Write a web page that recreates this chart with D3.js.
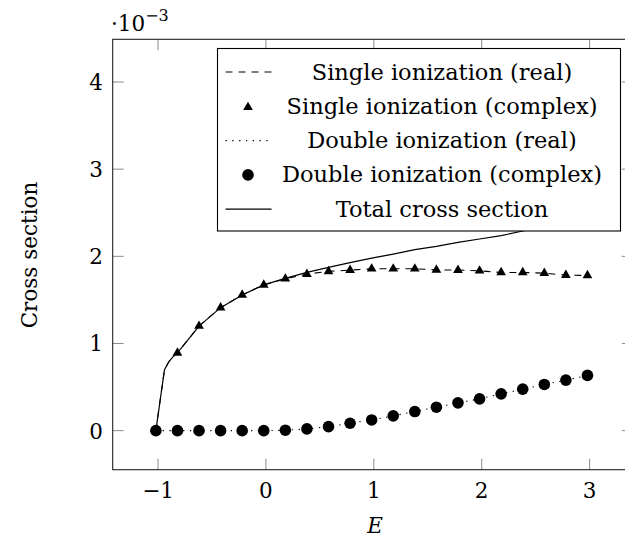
<!DOCTYPE html>
<html>
<head>
<meta charset="utf-8">
<script src="https://cdn.jsdelivr.net/npm/d3@7"></script>
<style>
  html, body { margin: 0; padding: 0; background: #fff; }
  svg { display: block; }
</style>
</head>
<body>
<svg id="chart" width="625" height="537"></svg>
<script>
// ---- data ----
const markerE = [-1.02, -0.82, -0.62, -0.42, -0.22, -0.02, 0.18, 0.38, 0.58, 0.78, 0.98,
                 1.18, 1.38, 1.58, 1.78, 1.98, 2.18, 2.38, 2.58, 2.78, 2.98];
const singleComplex = [0, 0.892, 1.20, 1.411, 1.557, 1.673, 1.742, 1.796, 1.827, 1.842, 1.857,
                       1.857, 1.857, 1.845, 1.842, 1.834, 1.815, 1.815, 1.807, 1.784, 1.781];
const doubleComplex = [0, 0, 0, 0, 0, 0, 0.005, 0.02, 0.046, 0.085, 0.123,
                       0.169, 0.219, 0.269, 0.319, 0.365, 0.422, 0.476, 0.53, 0.58, 0.634];
const lineE = [-1.02, -0.94, -0.90, -0.86, -0.82, -0.62, -0.42, -0.22, -0.02, 0.18, 0.38, 0.58,
               0.78, 0.98, 1.18, 1.38, 1.58, 1.78, 1.98, 2.18, 2.38, 2.58, 2.78, 2.98];
const singleReal = [0, 0.70, 0.79, 0.85, 0.892, 1.20, 1.411, 1.557, 1.673, 1.742, 1.796, 1.827,
                    1.842, 1.857, 1.857, 1.857, 1.845, 1.842, 1.834, 1.815, 1.815, 1.807, 1.784, 1.781];
const doubleReal = [0, 0, 0, 0, 0, 0, 0, 0, 0, 0.005, 0.02, 0.046,
                    0.085, 0.123, 0.169, 0.219, 0.269, 0.319, 0.365, 0.422, 0.476, 0.53, 0.58, 0.634];
const totalCross = [0, 0.70, 0.79, 0.85, 0.892, 1.20, 1.411, 1.557, 1.673, 1.747, 1.816, 1.873,
                    1.927, 1.98, 2.026, 2.076, 2.114, 2.161, 2.199, 2.237, 2.291, 2.337, 2.364, 2.415];
const xTicks = [-1, 0, 1, 2, 3];
const yTicks = [0, 1, 2, 3, 4];
const legendLabels = ["Single ionization (real)", "Single ionization (complex)",
                      "Double ionization (real)", "Double ionization (complex)", "Total cross section"];

// ---- layout ----
const FONT = "'DejaVu Serif', 'Liberation Serif', serif";
const svg = d3.select("#chart");
const L = 112.7, T = 39.3, B = 469.7;
const x = d3.scaleLinear().domain([-1.42, 3.40]).range([L, L + 4.82 * 107.9]);
const y = d3.scaleLinear().domain([-0.448, 4.49]).range([B, T]);
const R = x.range()[1];
const FS = 21.5;
const LFS = 22.5;

const txt = (g, fs) => g.append("text").attr("font-family", FONT).attr("fill", "#000").attr("font-size", fs || FS);

svg.append("defs").append("clipPath").attr("id", "clip")
  .append("rect").attr("x", L).attr("y", T).attr("width", R - L).attr("height", B - T);

const plot = svg.append("g").attr("clip-path", "url(#clip)");

// ticks (inward, all four sides)
const tickLen = 11;
const tickG = svg.append("g").attr("stroke", "#8c8c8c").attr("stroke-width", 1);
xTicks.forEach(t => {
  tickG.append("line").attr("x1", x(t)).attr("x2", x(t)).attr("y1", B).attr("y2", B - tickLen);
  tickG.append("line").attr("x1", x(t)).attr("x2", x(t)).attr("y1", T).attr("y2", T + tickLen);
});
yTicks.forEach(t => {
  tickG.append("line").attr("y1", y(t)).attr("y2", y(t)).attr("x1", L).attr("x2", L + tickLen);
  tickG.append("line").attr("y1", y(t)).attr("y2", y(t)).attr("x1", R).attr("x2", R - tickLen);
});

// data lines
const lineGen = vals => d3.line().x((d, i) => x(lineE[i])).y(d => y(d))(vals);
plot.append("path").attr("d", lineGen(singleReal)).attr("fill", "none")
  .attr("stroke", "#000").attr("stroke-width", 1.1).attr("stroke-dasharray", "7,6");
plot.append("path").attr("d", lineGen(doubleReal)).attr("fill", "none")
  .attr("stroke", "#000").attr("stroke-width", 1.1).attr("stroke-dasharray", "1.3,5.5");
plot.append("path").attr("d", lineGen(totalCross)).attr("fill", "none")
  .attr("stroke", "#000").attr("stroke-width", 1.2);

// markers
const triR = 5.6;
const triPath = (cx, cy) => {
  const h = triR * Math.sqrt(3) / 2;
  return `M${cx},${cy - triR}L${cx + h},${cy + triR / 2}L${cx - h},${cy + triR / 2}Z`;
};
plot.append("g").selectAll("path").data(singleComplex.slice(1)).join("path")
  .attr("d", (d, i) => triPath(x(markerE[i + 1]), y(d))).attr("fill", "#000");
plot.append("g").selectAll("circle").data(doubleComplex).join("circle")
  .attr("cx", (d, i) => x(markerE[i])).attr("cy", d => y(d)).attr("r", 5.8).attr("fill", "#000");

// axis box
svg.append("rect").attr("x", L).attr("y", T).attr("width", R - L).attr("height", B - T)
  .attr("fill", "none").attr("stroke", "#222").attr("stroke-width", 1.1);

// tick labels
xTicks.forEach(t => {
  txt(svg).attr("x", x(t)).attr("y", 498).attr("text-anchor", "middle")
    .text(t < 0 ? "\u2212" + Math.abs(t) : String(t));
});
yTicks.forEach(t => {
  txt(svg).attr("x", 103).attr("y", y(t) + 8).attr("text-anchor", "end").text(String(t));
});
// scale label
const sc = txt(svg).attr("x", 111).attr("y", 31);
sc.append("tspan").text("\u00b710");
sc.append("tspan").attr("dy", -10).attr("font-size", 16).text("\u22123");

// axis titles
txt(svg).attr("x", 375).attr("y", 533).attr("text-anchor", "middle")
  .attr("font-style", "italic").text("E");
txt(svg).attr("transform", "translate(37,255) rotate(-90)").attr("text-anchor", "middle")
  .text("Cross section");

// legend
const lg = svg.append("g");
lg.append("rect").attr("x", 217.5).attr("y", 48.5).attr("width", 403).attr("height", 182.5)
  .attr("fill", "#fff").attr("stroke", "#000").attr("stroke-width", 1.1);
const rowY = i => 72 + i * 34.3;
const symX0 = 225.5, symX1 = 271.5, symC = 248;
lg.append("line").attr("x1", symX0).attr("x2", symX1).attr("y1", rowY(0)).attr("y2", rowY(0))
  .attr("stroke", "#000").attr("stroke-width", 1.1).attr("stroke-dasharray", "7,6");
lg.append("path").attr("d", triPath(symC, rowY(1) + 1)).attr("fill", "#000");
lg.append("line").attr("x1", symX0).attr("x2", symX1).attr("y1", rowY(2)).attr("y2", rowY(2))
  .attr("stroke", "#000").attr("stroke-width", 1.1).attr("stroke-dasharray", "1.3,5.5");
lg.append("circle").attr("cx", symC).attr("cy", rowY(3)).attr("r", 5.8).attr("fill", "#000");
lg.append("line").attr("x1", symX0).attr("x2", symX1).attr("y1", rowY(4)).attr("y2", rowY(4))
  .attr("stroke", "#000").attr("stroke-width", 1.2);
legendLabels.forEach((s, i) => {
  txt(lg, LFS).attr("x", 442).attr("y", rowY(i) + 7.5).attr("text-anchor", "middle").text(s);
});
</script>
</body>
</html>
